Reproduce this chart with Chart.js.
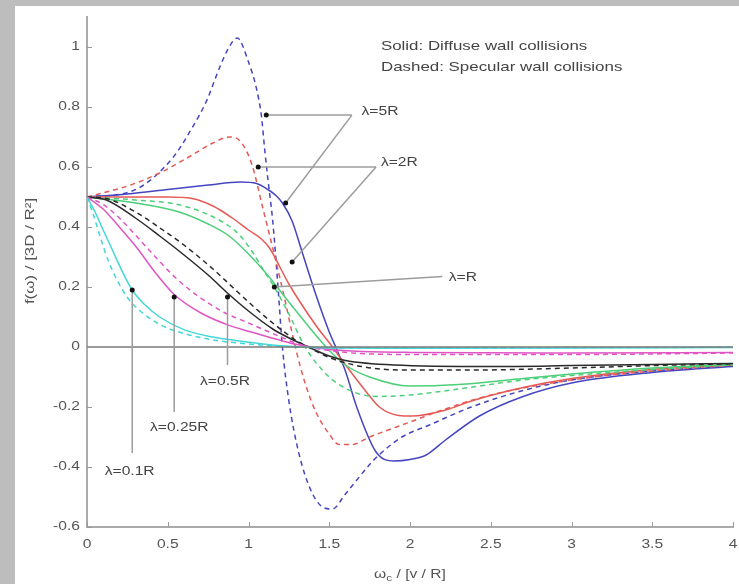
<!DOCTYPE html>
<html>
<head>
<meta charset="utf-8">
<script src="https://cdn.jsdelivr.net/npm/chart.js@4.4.1/dist/chart.umd.min.js"></script>
<style>
  body { margin: 0; background: #bdbdbd; width: 739px; height: 584px; overflow: hidden; position: relative; }
  #panel { position: absolute; left: 15px; top: 6px; width: 724px; height: 578px; background: #fff; }
  canvas { display: block; }
</style>
</head>
<body>
<div id="panel"><canvas id="chart" width="724" height="578"></canvas></div>
<script>
// 축 눈금
const xTicks = [0, 0.5, 1, 1.5, 2, 2.5, 3, 3.5, 4];
const yTicks = [-0.6, -0.4, -0.2, 0, 0.2, 0.4, 0.6, 0.8, 1];

// λ=0.1R (cyan)
const cyanSolidX = [0, 0.05, 0.1, 0.16, 0.22, 0.28, 0.35, 0.45, 0.6, 0.78, 1.0, 1.2, 1.5, 2, 3, 4];
const cyanSolidY = [0.5, 0.45, 0.39, 0.32, 0.25, 0.19, 0.145, 0.10, 0.058, 0.033, 0.016, 0.004, -0.003, -0.004, -0.003, -0.002];
const cyanDashX = [0, 0.04, 0.08, 0.13, 0.18, 0.25, 0.33, 0.45, 0.6, 0.8, 1.0, 1.2, 1.5, 2, 3, 4];
const cyanDashY = [0.5, 0.44, 0.37, 0.29, 0.23, 0.165, 0.12, 0.075, 0.045, 0.022, 0.01, 0.002, -0.002, -0.003, -0.002, -0.001];

// λ=0.25R (magenta)
const magSolidX = [0, 0.1, 0.2, 0.31, 0.42, 0.54, 0.7, 0.88, 1.05, 1.2, 1.3, 1.5, 2, 3, 4];
const magSolidY = [0.5, 0.46, 0.40, 0.33, 0.25, 0.175, 0.115, 0.072, 0.045, 0.022, 0.008, -0.008, -0.018, -0.02, -0.018];
const magDashX = [0, 0.1, 0.2, 0.39, 0.55, 0.7, 0.85, 1.0, 1.15, 1.3, 1.5, 2, 3, 4];
const magDashY = [0.5, 0.475, 0.43, 0.32, 0.23, 0.165, 0.115, 0.08, 0.045, 0.012, -0.012, -0.025, -0.025, -0.02];

// λ=0.5R (black)
const blackSolidX = [0, 0.12, 0.3, 0.45, 0.57, 0.75, 0.88, 1.0, 1.15, 1.27, 1.35, 1.5, 1.6, 1.9, 2.5, 3, 3.5, 4];
const blackSolidY = [0.5, 0.49, 0.43, 0.37, 0.32, 0.24, 0.175, 0.12, 0.06, 0.025, 0.005, -0.03, -0.045, -0.06, -0.065, -0.062, -0.058, -0.055];
const blackDashX = [0, 0.12, 0.3, 0.47, 0.6, 0.78, 0.9, 1.0, 1.15, 1.3, 1.37, 1.5, 1.7, 1.97, 2.35, 3, 3.5, 4];
const blackDashY = [0.5, 0.495, 0.45, 0.39, 0.34, 0.26, 0.2, 0.15, 0.08, 0.02, 0.0, -0.035, -0.065, -0.077, -0.077, -0.07, -0.062, -0.056];

// λ=R (green)
const greenSolidX = [0, 0.3, 0.57, 0.75, 0.88, 1.0, 1.11, 1.25, 1.4, 1.48, 1.6, 1.75, 2.0, 2.3, 2.7, 3.0, 3.5, 4];
const greenSolidY = [0.5, 0.48, 0.45, 0.41, 0.37, 0.31, 0.245, 0.15, 0.05, 0.0, -0.06, -0.10, -0.13, -0.125, -0.105, -0.09, -0.07, -0.058];
const greenDashX = [0, 0.3, 0.6, 0.86, 0.95, 1.02, 1.1, 1.16, 1.25, 1.35, 1.5, 1.65, 1.8, 2.0, 2.3, 2.7, 3.0, 3.5, 4];
const greenDashY = [0.5, 0.49, 0.47, 0.41, 0.37, 0.32, 0.25, 0.2, 0.11, 0.0, -0.1, -0.15, -0.165, -0.16, -0.14, -0.11, -0.095, -0.075, -0.06];

// λ=2R (red)
const redSolidX = [0, 0.3, 0.5, 0.65, 0.78, 0.9, 1.0, 1.08, 1.13, 1.25, 1.42, 1.52, 1.56, 1.73, 1.81, 1.93, 2.01, 2.22, 2.38, 2.7, 3.0, 3.5, 4];
const redSolidY = [0.5, 0.5, 0.5, 0.495, 0.47, 0.43, 0.39, 0.36, 0.33, 0.21, 0.07, 0.0, -0.03, -0.15, -0.2, -0.228, -0.23, -0.21, -0.18, -0.135, -0.105, -0.075, -0.06];
const redDashX = [0, 0.27, 0.45, 0.62, 0.78, 0.88, 0.95, 1.02, 1.09, 1.15, 1.22, 1.29, 1.35, 1.42, 1.5, 1.56, 1.64, 1.75, 2.0, 2.2, 2.5, 3.0, 3.5, 4];
const redDashY = [0.5, 0.54, 0.58, 0.63, 0.68, 0.70, 0.685, 0.61, 0.46, 0.33, 0.17, 0.0, -0.12, -0.22, -0.29, -0.325, -0.325, -0.3, -0.25, -0.21, -0.16, -0.11, -0.08, -0.06];

// λ=5R (blue)
const blueSolidX = [0, 0.25, 0.5, 0.75, 0.95, 1.05, 1.12, 1.17, 1.21, 1.27, 1.33, 1.42, 1.5, 1.54, 1.6, 1.67, 1.79, 1.9, 2.0, 2.1, 2.22, 2.43, 2.7, 3.0, 3.5, 4];
const blueSolidY = [0.5, 0.51, 0.525, 0.54, 0.55, 0.545, 0.525, 0.505, 0.48, 0.42, 0.32, 0.17, 0.05, 0.0, -0.08, -0.2, -0.35, -0.38, -0.375, -0.36, -0.31, -0.23, -0.165, -0.12, -0.085, -0.065];
const blueDashX = [0, 0.28, 0.53, 0.65, 0.74, 0.82, 0.88, 0.93, 1.0, 1.05, 1.08, 1.1, 1.12, 1.15, 1.18, 1.21, 1.25, 1.31, 1.38, 1.45, 1.52, 1.6, 1.77, 1.85, 1.95, 2.12, 2.38, 2.7, 3.0, 3.5, 4];
const blueDashY = [0.5, 0.52, 0.63, 0.73, 0.82, 0.93, 1.0, 1.03, 0.95, 0.86, 0.77, 0.66, 0.56, 0.42, 0.22, 0.0, -0.18, -0.35, -0.47, -0.53, -0.54, -0.49, -0.38, -0.34, -0.30, -0.26, -0.20, -0.145, -0.11, -0.08, -0.062];

// y=0 기준선
const zeroX = [0, 4];
const zeroY = [0, 0];

// λ 라벨과 지시선 (데이터 좌표)
const lambdaTexts = ["λ=5R", "λ=2R", "λ=R", "λ=0.5R", "λ=0.25R", "λ=0.1R"];
const lambdaTextX = [1.70, 1.82, 2.24, 0.70, 0.39, 0.11];
const lambdaTextY = [0.783, 0.613, 0.23, -0.117, -0.27, -0.417];
// [시작 x, 시작 y, 끝 x, 끝 y] - 끝에 점
const leaderLines = [
    [1.64, 0.773, 1.11, 0.773],
    [1.64, 0.773, 1.23, 0.48],
    [1.79, 0.6, 1.06, 0.6],
    [1.79, 0.6, 1.27, 0.283],
    [2.2, 0.235, 1.16, 0.2],
    [0.87, -0.06, 0.87, 0.167],
    [0.54, -0.217, 0.54, 0.167],
    [0.28, -0.353, 0.28, 0.19]
];

const noteTexts = ["Solid: Diffuse wall collisions", "Dashed: Specular wall collisions"];
const noteX = 1.82;
const noteY = [1.003, 0.933];

const xTitle = ["ω", "c", " / [v / R]"];
const yTitle = "f(ω) / [3D / R²]";

// 원본 그림은 가로로 늘어나 있어서 글자도 가로로 늘려 그림
const TEXT_STRETCH = 1.3;
const FONT = "'Liberation Sans', Arial, sans-serif";

function series(xs, ys) {
    return xs.map((x, i) => ({ x: x, y: ys[i] }));
}

function line(label, xs, ys, color, dashed) {
    return {
        label: label,
        data: series(xs, ys),
        borderColor: color,
        borderWidth: 1.5,
        borderDash: dashed ? [5, 4] : [],
        pointRadius: 0,
        showLine: true,
        fill: false,
        cubicInterpolationMode: "monotone"
    };
}

function fmt(v) {
    return String(Number(v.toFixed(1)));
}

function stretchedText(ctx, text, x, y, align) {
    ctx.save();
    ctx.translate(x, y);
    ctx.scale(TEXT_STRETCH, 1);
    ctx.textAlign = align;
    ctx.fillText(text, 0, 0);
    ctx.restore();
}

const datasets = [
    line("zero", zeroX, zeroY, "#7a7a7a", false),
    line("0.1R diffuse", cyanSolidX, cyanSolidY, "#45d6d6", false),
    line("0.1R specular", cyanDashX, cyanDashY, "#45d6d6", true),
    line("0.25R diffuse", magSolidX, magSolidY, "#e055c4", false),
    line("0.25R specular", magDashX, magDashY, "#e055c4", true),
    line("0.5R diffuse", blackSolidX, blackSolidY, "#2a2a2a", false),
    line("0.5R specular", blackDashX, blackDashY, "#2a2a2a", true),
    line("R diffuse", greenSolidX, greenSolidY, "#4ccf78", false),
    line("R specular", greenDashX, greenDashY, "#4ccf78", true),
    line("2R diffuse", redSolidX, redSolidY, "#e65a55", false),
    line("2R specular", redDashX, redDashY, "#e65a55", true),
    line("5R diffuse", blueSolidX, blueSolidY, "#4545c0", false),
    line("5R specular", blueDashX, blueDashY, "#4545c0", true)
];

// 안쪽 눈금, 눈금 글자, 지시선, 라벨, 축 제목 그리기
const decorPlugin = {
    id: "decor",
    afterDraw(chart) {
        const ctx = chart.ctx;
        const xs = chart.scales.x;
        const ys = chart.scales.y;
        const area = chart.chartArea;
        ctx.save();

        // 안쪽 눈금
        ctx.strokeStyle = "#9a9a9a";
        ctx.lineWidth = 1;
        xTicks.forEach(v => {
            const px = Math.round(xs.getPixelForValue(v)) + 0.5;
            ctx.beginPath();
            ctx.moveTo(px, area.bottom);
            ctx.lineTo(px, area.bottom - 5);
            ctx.stroke();
        });
        yTicks.forEach(v => {
            const py = Math.round(ys.getPixelForValue(v)) + 0.5;
            ctx.beginPath();
            ctx.moveTo(area.left, py);
            ctx.lineTo(area.left + 5, py);
            ctx.stroke();
        });

        // 눈금 글자
        ctx.fillStyle = "#555";
        ctx.font = "12px " + FONT;
        ctx.textBaseline = "middle";
        xTicks.forEach(v => {
            stretchedText(ctx, fmt(v), xs.getPixelForValue(v), area.bottom + 18, "center");
        });
        yTicks.forEach(v => {
            stretchedText(ctx, fmt(v), area.left - 7, ys.getPixelForValue(v), "right");
        });

        // 지시선
        ctx.strokeStyle = "#9c9c9c";
        ctx.lineWidth = 1.5;
        leaderLines.forEach(s => {
            ctx.beginPath();
            ctx.moveTo(xs.getPixelForValue(s[0]), ys.getPixelForValue(s[1]));
            ctx.lineTo(xs.getPixelForValue(s[2]), ys.getPixelForValue(s[3]));
            ctx.stroke();
        });
        ctx.fillStyle = "#111";
        leaderLines.forEach(s => {
            ctx.beginPath();
            ctx.arc(xs.getPixelForValue(s[2]), ys.getPixelForValue(s[3]), 2.5, 0, Math.PI * 2);
            ctx.fill();
        });

        // λ 라벨
        ctx.fillStyle = "#444";
        ctx.font = "12px " + FONT;
        lambdaTexts.forEach((t, i) => {
            stretchedText(ctx, t, xs.getPixelForValue(lambdaTextX[i]), ys.getPixelForValue(lambdaTextY[i]), "left");
        });

        // 범례 설명
        ctx.font = "13px " + FONT;
        noteTexts.forEach((t, i) => {
            stretchedText(ctx, t, xs.getPixelForValue(noteX), ys.getPixelForValue(noteY[i]), "left");
        });

        // x축 제목 (아래첨자 포함)
        ctx.fillStyle = "#555";
        const mainFont = "12px " + FONT;
        const subFont = "9px " + FONT;
        ctx.font = mainFont;
        const w0 = ctx.measureText(xTitle[0]).width * TEXT_STRETCH;
        const w2 = ctx.measureText(xTitle[2]).width * TEXT_STRETCH;
        ctx.font = subFont;
        const w1 = ctx.measureText(xTitle[1]).width * TEXT_STRETCH;
        const tx = (area.left + area.right) / 2 - (w0 + w1 + w2) / 2;
        const ty = chart.height - 9;
        ctx.font = mainFont;
        stretchedText(ctx, xTitle[0], tx, ty, "left");
        ctx.font = subFont;
        stretchedText(ctx, xTitle[1], tx + w0, ty + 4, "left");
        ctx.font = mainFont;
        stretchedText(ctx, xTitle[2], tx + w0 + w1, ty, "left");

        // y축 제목
        ctx.font = "13px " + FONT;
        ctx.translate(15, ys.getPixelForValue(0.32));
        ctx.rotate(-Math.PI / 2);
        stretchedText(ctx, yTitle, 0, 0, "center");

        ctx.restore();
    }
};

const ctx = document.getElementById("chart").getContext("2d");
new Chart(ctx, {
    type: "scatter",
    data: { datasets: datasets },
    options: {
        responsive: false,
        animation: false,
        layout: { padding: { top: 11, right: 6, bottom: 0, left: 0 } },
        plugins: {
            legend: { display: false },
            tooltip: { enabled: false }
        },
        scales: {
            x: {
                type: "linear",
                min: 0,
                max: 4,
                afterBuildTicks: scale => { scale.ticks = xTicks.map(v => ({ value: v })); },
                afterFit: scale => {
                    scale.height = 57;
                    scale.paddingRight = 0;
                    scale.paddingLeft = 0;
                },
                ticks: { display: false },
                grid: { display: false, drawTicks: false },
                border: { display: true, color: "#aaaaaa", width: 2 }
            },
            y: {
                type: "linear",
                min: -0.6,
                max: 1.1,
                afterBuildTicks: scale => { scale.ticks = yTicks.map(v => ({ value: v })); },
                afterFit: scale => {
                    scale.width = 72;
                    scale.paddingTop = 0;
                    scale.paddingBottom = 0;
                },
                ticks: { display: false },
                grid: { display: false, drawTicks: false },
                border: { display: true, color: "#aaaaaa", width: 2 }
            }
        }
    },
    plugins: [decorPlugin]
});
</script>
</body>
</html>
